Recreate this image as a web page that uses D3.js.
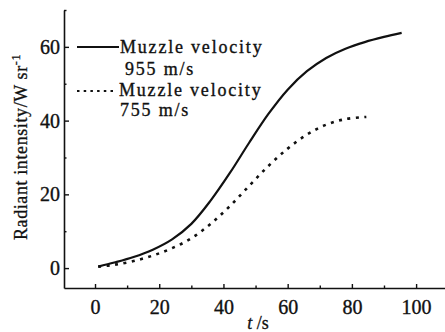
<!DOCTYPE html>
<html>
<head>
<meta charset="utf-8">
<script src="https://cdn.jsdelivr.net/npm/d3@7"></script>
<style>
  body { margin: 0; background: #fff; }
  svg { display: block; }
  text { font-family: "Liberation Serif", "DejaVu Serif", serif; fill: #111; }
</style>
</head>
<body>
<div id="chart"></div>
<script>
const fastTimes = [1, 6, 12, 18, 24, 30, 36, 42, 48, 54, 60, 66, 72, 78, 84, 90, 95.5]
const fastValues = [0.4, 1.5, 3, 5, 7.8, 12, 18.3, 25.8, 34, 41.8, 48.4, 53.4, 57, 59.5, 61.3, 62.7, 63.8]
const slowTimes = [1, 6, 12, 18, 24, 30, 36, 42, 48, 54, 60, 66, 72, 78, 84.5]
const slowValues = [0.4, 0.9, 1.9, 3.4, 5.4, 8.1, 12, 16.8, 22.3, 27.7, 32.4, 36.2, 38.9, 40.4, 41]
const seriesNames = ['Muzzle velocity', 'Muzzle velocity']
const seriesSpeeds = ['955 m/s', '755 m/s']
const xMajor = [0, 20, 40, 60, 80, 100]
const xMinor = [10, 30, 50, 70, 90]
const yMajor = [0, 20, 40, 60]
const yMinor = [10, 30, 50, 70]

const width = 445
const height = 332

const svg = d3.select('#chart').append('svg')
  .attr('width', width)
  .attr('height', height)

const x = d3.scaleLinear().domain([-9.66, 109]).range([64, 445])
const y = d3.scaleLinear().domain([-5.4, 70]).range([288, 10])

// x axis
svg.append('g').attr('transform', `translate(0,${y.range()[0]})`)
  .call(d3.axisBottom(x).tickValues(xMajor).tickSize(-4).tickSizeOuter(0).tickPadding(12))
svg.append('g').attr('transform', `translate(0,${y.range()[0]})`)
  .call(d3.axisBottom(x).tickValues(xMinor).tickSize(-2.5).tickSizeOuter(0).tickFormat(''))
  .call(g => g.select('.domain').remove())

// y axis
svg.append('g').attr('transform', `translate(${x.range()[0]},0)`)
  .call(d3.axisLeft(y).tickValues(yMajor).tickSize(-5).tickSizeOuter(0).tickPadding(4))
svg.append('g').attr('transform', `translate(${x.range()[0]},0)`)
  .call(d3.axisLeft(y).tickValues(yMinor).tickSize(-2.5).tickSizeOuter(0).tickFormat(''))
  .call(g => g.select('.domain').remove())

svg.selectAll('.domain').attr('stroke', '#111').attr('stroke-width', 1.6)
svg.selectAll('.tick line').attr('stroke', '#111').attr('stroke-width', 1.4)
svg.selectAll('.tick text')
  .style('font-family', '"Liberation Serif", serif')
  .style('font-size', '20px')
  .attr('fill', '#111')
  .attr('stroke', '#111')
  .attr('stroke-width', 0.35)

// curves
const line = d3.line()
  .x(d => x(d[0]))
  .y(d => y(d[1]))
  .curve(d3.curveCatmullRom.alpha(0.5))

svg.append('path')
  .datum(d3.zip(fastTimes, fastValues))
  .attr('d', line)
  .attr('fill', 'none')
  .attr('stroke', '#111')
  .attr('stroke-width', 2.2)

svg.append('path')
  .datum(d3.zip(slowTimes, slowValues))
  .attr('d', line)
  .attr('fill', 'none')
  .attr('stroke', '#111')
  .attr('stroke-width', 2.6)
  .attr('stroke-dasharray', '3,5.5')

// legend
const legend = svg.append('g')
legend.append('line')
  .attr('x1', 77).attr('x2', 119).attr('y1', 47).attr('y2', 47)
  .attr('stroke', '#111').attr('stroke-width', 2.2)
legend.append('line')
  .attr('x1', 77).attr('x2', 115).attr('y1', 91).attr('y2', 91)
  .attr('stroke', '#111').attr('stroke-width', 2)
  .attr('stroke-dasharray', '2.5,4.2')

const legendText = [
  { t: seriesNames[0], x: 120, y: 53 },
  { t: seriesSpeeds[0], x: 125, y: 75 },
  { t: seriesNames[1], x: 119, y: 96 },
  { t: seriesSpeeds[1], x: 120, y: 116 }
]
legend.selectAll('text')
  .data(legendText)
  .join('text')
  .attr('x', d => d.x)
  .attr('y', d => d.y)
  .style('font-size', '18px')
  .style('letter-spacing', '1.8px')
  .attr('stroke', '#111')
  .attr('stroke-width', 0.35)
  .text(d => d.t)

// axis titles
const xTitle = svg.append('text')
  .attr('x', 258)
  .attr('y', 329)
  .attr('text-anchor', 'middle')
  .style('font-size', '18px')
  .attr('stroke', '#111')
  .attr('stroke-width', 0.3)
xTitle.append('tspan').style('font-style', 'italic').text('t')
xTitle.append('tspan').text(' /s')

const yTitle = svg.append('text')
  .attr('transform', 'translate(27,147) rotate(-90)')
  .attr('text-anchor', 'middle')
  .style('font-size', '18px')
  .style('letter-spacing', '0.6px')
  .attr('stroke', '#111')
  .attr('stroke-width', 0.3)
yTitle.append('tspan').text('Radiant intensity/W sr')
yTitle.append('tspan').attr('dy', -7).style('font-size', '12px').text('-1')
</script>
</body>
</html>
